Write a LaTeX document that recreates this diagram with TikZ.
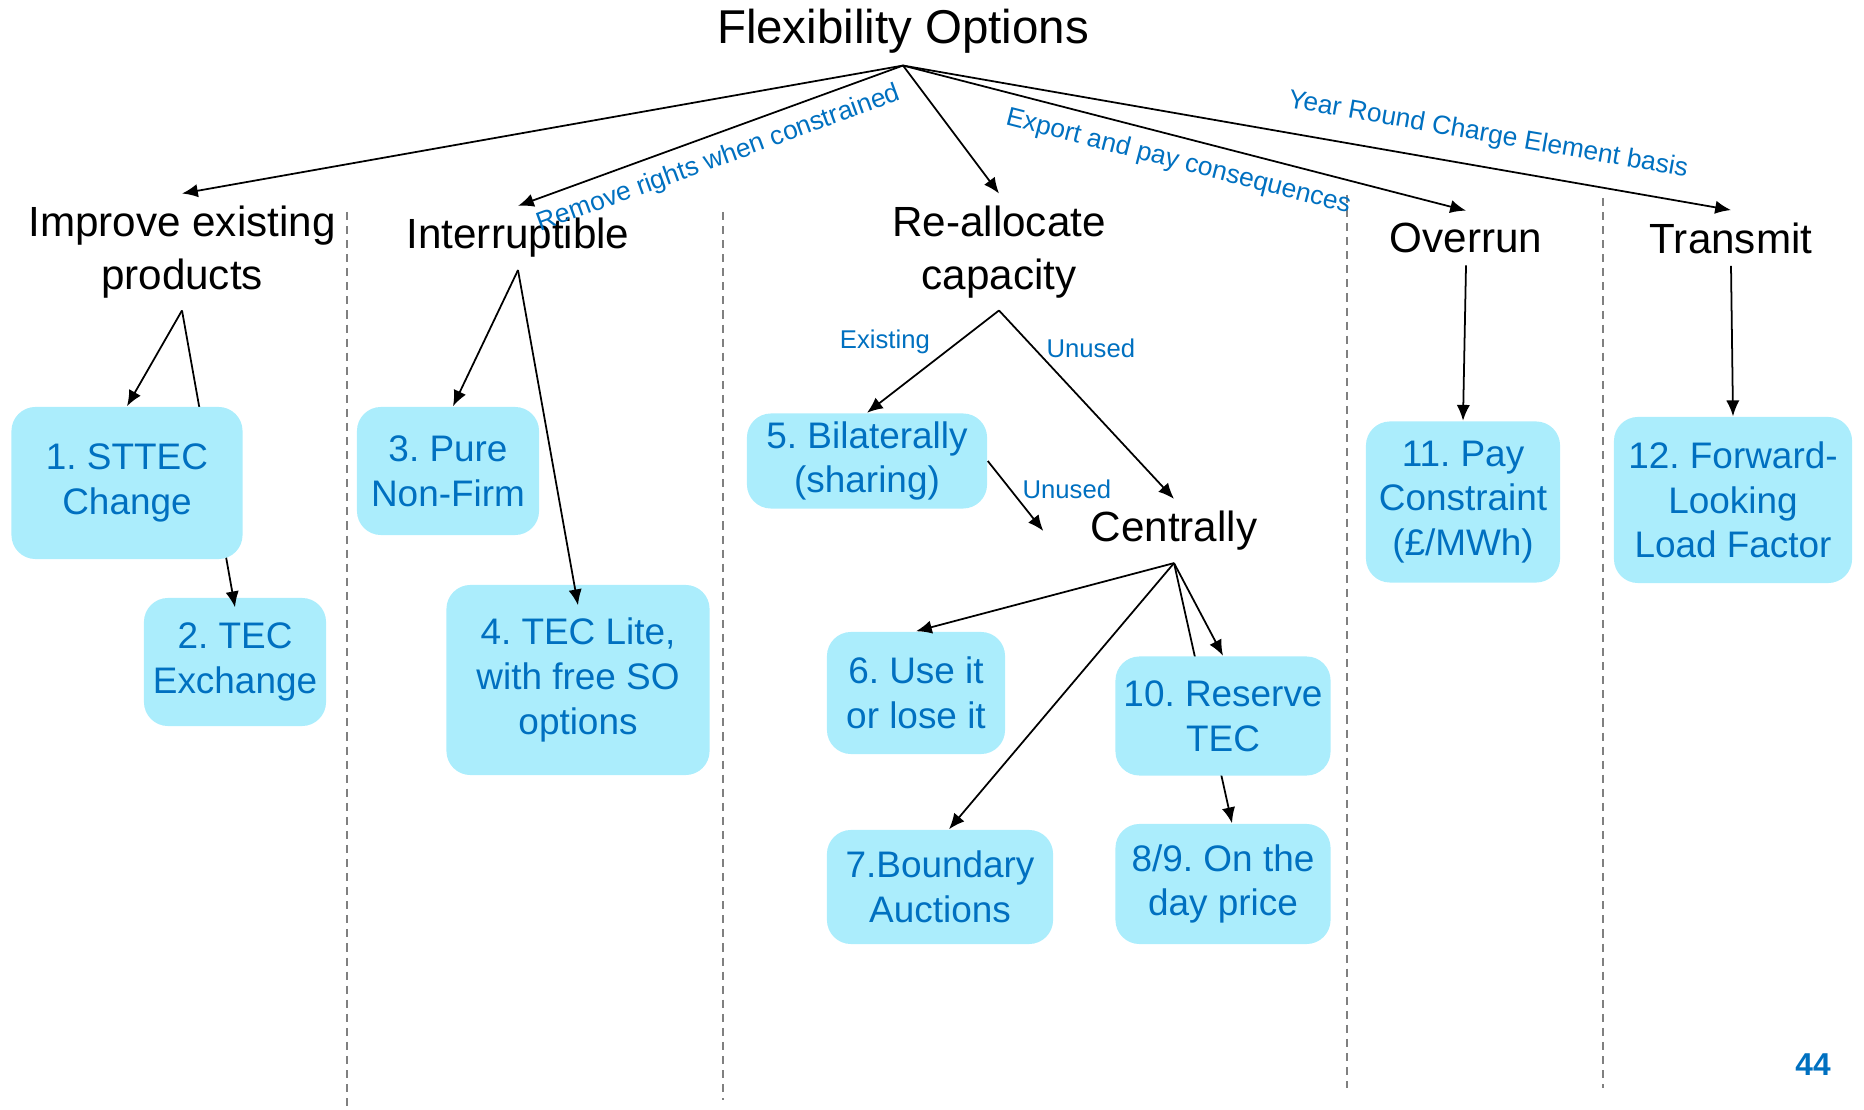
\documentclass[tikz,border=0pt]{standalone}
\usepackage{fontspec}
\setmainfont{Liberation Sans}
\usetikzlibrary{arrows.meta}

\definecolor{optfill}{RGB}{171,237,252}
\definecolor{optblue}{RGB}{0,112,192}

\begin{document}
\frenchspacing
\begin{tikzpicture}[x=0.01cm,y=-0.01cm]
  \tikzstyle{every node}=[align=center]
  \tikzstyle{grp}=[font=\fontsize{12}{15}\selectfont]
  \tikzstyle{opt}=[fill=optfill,text=optblue,rounded corners=2.4mm,inner sep=1.5pt,font=\fontsize{10.5}{12.7}\selectfont]
  \tikzstyle{lbl}=[midway,sloped,text=optblue,font=\fontsize{7.5}{9}\selectfont]
  \tikzstyle{tag}=[text=optblue,font=\fontsize{7.3}{9}\selectfont]
  \tikzstyle{arr}=[-{Latex[length=4.5pt,width=3.8pt]},line width=0.5pt]
  \tikzstyle{divider}=[gray,dash pattern=on 2.3pt off 1.7pt,line width=0.55pt]
  \useasboundingbox (0,0) rectangle (1864,1110);
% column dividers
  \foreach \x/\top/\bot in {347/212/1110, 723/212/1100, 1347/195/1088, 1603/198/1088}{
    \draw[divider] (\x,\top) -- (\x,\bot);
  }
  \node[font=\fontsize{13.5}{16}\selectfont] (flex) at (903,31) {Flexibility Options};
% groups under the title
  \node[grp] (improve)   at (182,252)  {Improve existing\\products};
  \node[grp] (interrupt) at (518,238)  {Interruptible};
  \node[grp] (realloc)   at (999,252)  {Re-allocate\\capacity};
  \node[grp] (overrun)   at (1466,238) {Overrun};
  \node[grp] (transmit)  at (1731,238) {Transmit};
  \draw[arr] (flex.south) -- (improve.north);
  \draw[arr] (flex.south) -- (interrupt.north) node[lbl,below] {Remove rights when constrained};
  \draw[arr] (flex.south) -- (realloc.north);
  \draw[arr] (flex.south) -- (overrun.north)   node[lbl,below] {Export and pay consequences};
  \draw[arr] (flex.south) -- (transmit.north)  node[lbl,pos=0.7,above=2pt] {Year Round Charge Element basis};
% improve existing products
  \node[opt,minimum width=1.82cm,minimum height=1.28cm] (tecx)   at (235,662) {2. TEC\\Exchange};
  \draw[arr] (improve.south) -- ([yshift=-1mm]tecx.north);
  \node[opt,minimum width=2.31cm,minimum height=1.52cm] (sttec)  at (127,483) {1. STTEC\\Change};
  \draw[arr] (improve.south) -- (sttec.north);
% interruptible
  \node[opt,minimum width=1.82cm,minimum height=1.28cm] (pure)   at (448,471) {3. Pure\\Non-Firm};
  \node[opt,minimum width=2.63cm,minimum height=1.90cm] (lite)   at (578,680) {4. TEC Lite,\\with free SO\\options};
  \draw[arr] (interrupt.south) -- ([xshift=0.5mm]pure.north);
  \draw[arr] (interrupt.south) -- ([yshift=-2.1mm]lite.north);
% re-allocate capacity
  \node[opt,minimum width=2.40cm,minimum height=0.95cm] (bilat)  at (867,461) {5. Bilaterally\\(sharing)};
  \node[grp] (central) at (1174,531) {Centrally};
  \draw[arr] (realloc.south) -- (bilat.north)   node[tag,pos=0.55,above left,xshift=1.6mm] {Existing};
  \draw[arr] (realloc.south) -- (central.north) node[tag,pos=0.2,right] {Unused};
  \draw[arr] (bilat.east) -- ([xshift=-3.5mm]central.west) node[tag,pos=0.4,right] {Unused};
  \node[opt,minimum width=1.78cm,minimum height=1.22cm] (useit)  at (916,693) {6. Use it\\or lose it};
  \node[opt,minimum width=2.26cm,minimum height=1.14cm] (bound)  at (940,887) {7.Boundary\\Auctions};
  \node[opt,minimum width=2.15cm,minimum height=1.20cm] (onday)  at (1223,884) {8/9. On the\\day price};
  \draw[arr] (central.south) -- ([xshift=0.9mm]onday.north);
  \node[opt,minimum width=2.15cm,minimum height=1.19cm] (reserve) at (1223,716) {10. Reserve\\TEC};
  \draw[arr] (central.south) -- (useit.north);
  \draw[arr] (central.south) -- ([xshift=0.9mm]bound.north);
  \draw[arr] (central.south) -- (reserve.north);
% overrun and transmit
  \node[opt,minimum width=1.94cm,minimum height=1.61cm] (paycon) at (1463,502) {11. Pay\\Constraint\\(£/MWh)};
  \node[opt,minimum width=2.38cm,minimum height=1.66cm] (fwd)    at (1733,500) {12. Forward-\\Looking\\Load Factor};
  \draw[arr] (overrun.south) -- (paycon.north);
  \draw[arr] (transmit.south) -- (fwd.north);
  \node[text=optblue,font=\bfseries\fontsize{9}{11}\selectfont] (page) at (1813,1065) {44};
\end{tikzpicture}
\end{document}
